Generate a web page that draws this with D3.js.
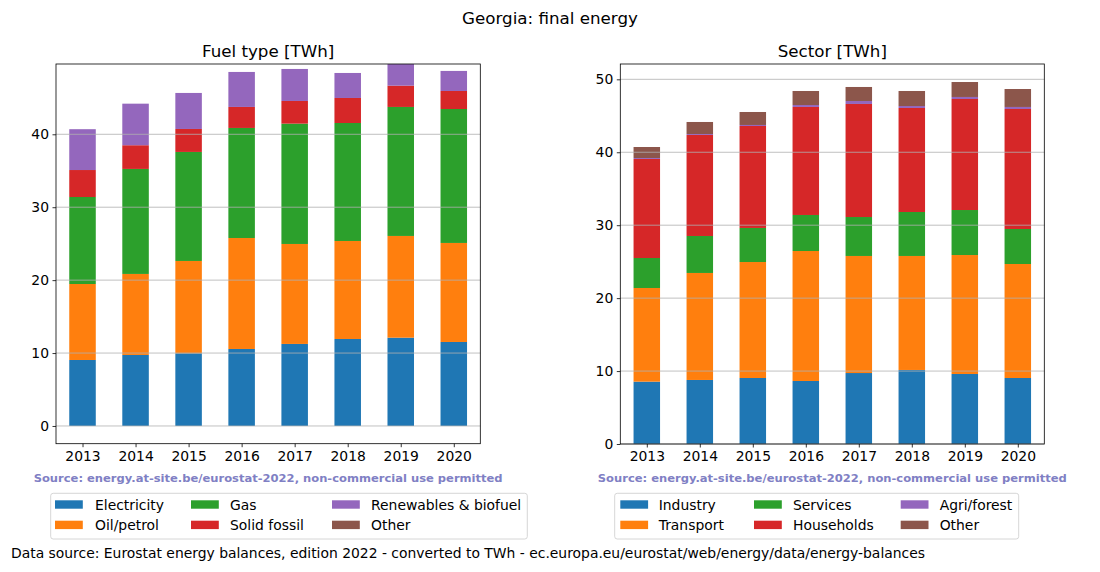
<!DOCTYPE html>
<html>
<head>
<meta charset="utf-8">
<script src="https://cdn.jsdelivr.net/npm/d3@7"></script>
<style>
  html, body { margin: 0; padding: 0; background: #fff; }
  svg { display: block; font-family: "DejaVu Sans", sans-serif; }
</style>
</head>
<body>
<svg id="chart" width="1100" height="572"></svg>
<script>
// ---------- DATA ----------
const years = ["2013", "2014", "2015", "2016", "2017", "2018", "2019", "2020"];

// Fuel type [TWh]
const fuelNames = ["Electricity", "Oil/petrol", "Gas", "Solid fossil", "Renewables & biofuel", "Other"];
const electricity = [9.05, 9.74, 9.97, 10.56, 11.25, 11.93, 12.11, 11.52];
const oilPetrol   = [10.42, 11.11, 12.66, 15.22, 13.71, 13.44, 13.95, 13.58];
const gas         = [11.93, 14.40, 14.95, 15.09, 16.50, 16.18, 17.69, 18.37];
const solidFossil = [3.70, 3.25, 3.15, 2.88, 3.11, 3.43, 2.92, 2.47];
const renewables  = [5.60, 5.70, 4.94, 4.80, 4.39, 3.43, 2.96, 2.75];
const fuelOther   = [0, 0, 0, 0, 0, 0, 0, 0];

// Sector [TWh]
const sectorNames = ["Industry", "Transport", "Services", "Households", "Agri/forest", "Other"];
const industry    = [8.55, 8.78, 9.05, 8.64, 9.73, 10.15, 9.60, 9.05];
const transport   = [12.84, 14.67, 15.90, 17.82, 16.05, 15.63, 16.31, 15.63];
const services    = [4.11, 5.07, 4.67, 4.94, 5.34, 6.03, 6.17, 4.80];
const households  = [13.58, 13.85, 13.98, 14.81, 15.50, 14.26, 15.22, 16.45];
const agriForest  = [0.13, 0.13, 0.14, 0.27, 0.41, 0.27, 0.28, 0.28];
const sectorOther = [1.51, 1.65, 1.78, 1.92, 1.92, 2.06, 2.05, 2.46];

const fuelTicks = [0, 10, 20, 30, 40];
const sectorTicks = [0, 10, 20, 30, 40, 50];

const colors = ["#1f77b4", "#ff7f0e", "#2ca02c", "#d62728", "#9467bd", "#8c564b"];

// ---------- DRAW ----------
const svg = d3.select("#chart");
const FONT = 13.9;
const TFONT = 16.7;

svg.append("text").attr("x", 550).attr("y", 24).attr("text-anchor", "middle")
  .attr("font-size", TFONT).text("Georgia: final energy");

function panel(opts) {
  const { x0, x1, y0, y1, ydom, ticks, series, names, title, legend } = opts;
  const g = svg.append("g");
  const x = d3.scaleLinear().domain([-0.5, years.length - 0.5]).range([x0, x1]);
  const y = d3.scaleLinear().domain(ydom).range([y1, y0]);

  const rows = years.map((yr, i) => {
    const r = { year: yr, i };
    names.forEach((n, k) => r[n] = series[k][i]);
    return r;
  });
  const stacked = d3.stack().keys(names)(rows);

  const clipId = "clip" + Math.round(x0);
  svg.append("clipPath").attr("id", clipId).append("rect")
    .attr("x", x0).attr("y", y0).attr("width", x1 - x0).attr("height", y1 - y0);

  const bars = g.append("g").attr("clip-path", `url(#${clipId})`);
  stacked.forEach((layer, k) => {
    bars.selectAll(null).data(layer).enter().append("rect")
      .attr("x", d => x(d.data.i - 0.25))
      .attr("width", d => x(0.25) - x(-0.25))
      .attr("y", d => y(d[1]))
      .attr("height", d => Math.max(0, y(d[0]) - y(d[1])))
      .attr("fill", colors[k]);
  });

  // grid on top
  g.append("g").selectAll(null).data(ticks).enter().append("line")
    .attr("x1", x0).attr("x2", x1)
    .attr("y1", d => y(d)).attr("y2", d => y(d))
    .attr("stroke", "#b0b0b0").attr("stroke-width", 0.8);

  // axes
  const yAxis = d3.axisLeft(y).tickValues(ticks).tickSize(3.5).tickPadding(3.5).tickFormat(d3.format("d"));
  const ya = g.append("g").attr("transform", `translate(${x0},0)`).call(yAxis);
  const xAxis = d3.axisBottom(x).tickValues(d3.range(years.length)).tickSize(3.5).tickPadding(3.5)
    .tickFormat(i => years[i]);
  const xa = g.append("g").attr("transform", `translate(0,${y1})`).call(xAxis);
  [ya, xa].forEach(a => {
    a.select(".domain").remove();
    a.selectAll("text").attr("font-size", FONT).attr("font-family", "DejaVu Sans").attr("fill", "#000");
    a.selectAll("line").attr("stroke", "#000").attr("stroke-width", 0.8);
  });

  // frame
  g.append("rect").attr("x", x0).attr("y", y0).attr("width", x1 - x0).attr("height", y1 - y0)
    .attr("fill", "none").attr("stroke", "#000").attr("stroke-width", 0.8);

  // title
  g.append("text").attr("x", (x0 + x1) / 2).attr("y", y0 - 7).attr("text-anchor", "middle")
    .attr("font-size", TFONT).text(title);

  // source
  g.append("text").attr("x", (x0 + x1) / 2).attr("y", 482).attr("text-anchor", "middle")
    .attr("font-size", 11).attr("font-weight", "bold").attr("fill", "#8080c4")
    .attr("textLength", 469).attr("lengthAdjust", "spacingAndGlyphs")
    .text("Source: energy.at-site.be/eurostat-2022, non-commercial use permitted");

  // legend
  const L = legend;
  g.append("rect").attr("x", L.bx0).attr("y", 493.3).attr("width", L.bx1 - L.bx0).attr("height", 45.7)
    .attr("rx", 2.5).attr("fill", "#fff").attr("fill-opacity", 0.8)
    .attr("stroke", "#cccccc").attr("stroke-width", 0.8);
  names.forEach((n, k) => {
    const col = Math.floor(k / 2), row = k % 2;
    const hy = 500.3 + row * 20.4;
    g.append("rect").attr("x", L.hx[col]).attr("y", hy).attr("width", 27.8).attr("height", 8.4)
      .attr("fill", colors[k]);
    g.append("text").attr("x", L.tx[col]).attr("y", hy + 9.2).attr("font-size", FONT).text(n);
  });
}

panel({
  x0: 56, x1: 480.3, y0: 64, y1: 443.7, ydom: [-2.43, 49.64], ticks: fuelTicks,
  series: [electricity, oilPetrol, gas, solidFossil, renewables, fuelOther],
  names: fuelNames, title: "Fuel type [TWh]",
  legend: { bx0: 50.7, bx1: 527.3, hx: [55, 191, 332], tx: [95, 230, 371] }
});

panel({
  x0: 620.3, x1: 1044.3, y0: 64, y1: 444, ydom: [0, 52.1], ticks: sectorTicks,
  series: [industry, transport, services, households, agriForest, sectorOther],
  names: sectorNames, title: "Sector [TWh]",
  legend: { bx0: 614.7, bx1: 1018.7, hx: [620.3, 754, 900.7], tx: [658.7, 793, 939.7] }
});

svg.append("text").attr("x", 11).attr("y", 558).attr("font-size", FONT)
  .text("Data source: Eurostat energy balances, edition 2022 - converted to TWh - ec.europa.eu/eurostat/web/energy/data/energy-balances");
</script>
</body>
</html>
